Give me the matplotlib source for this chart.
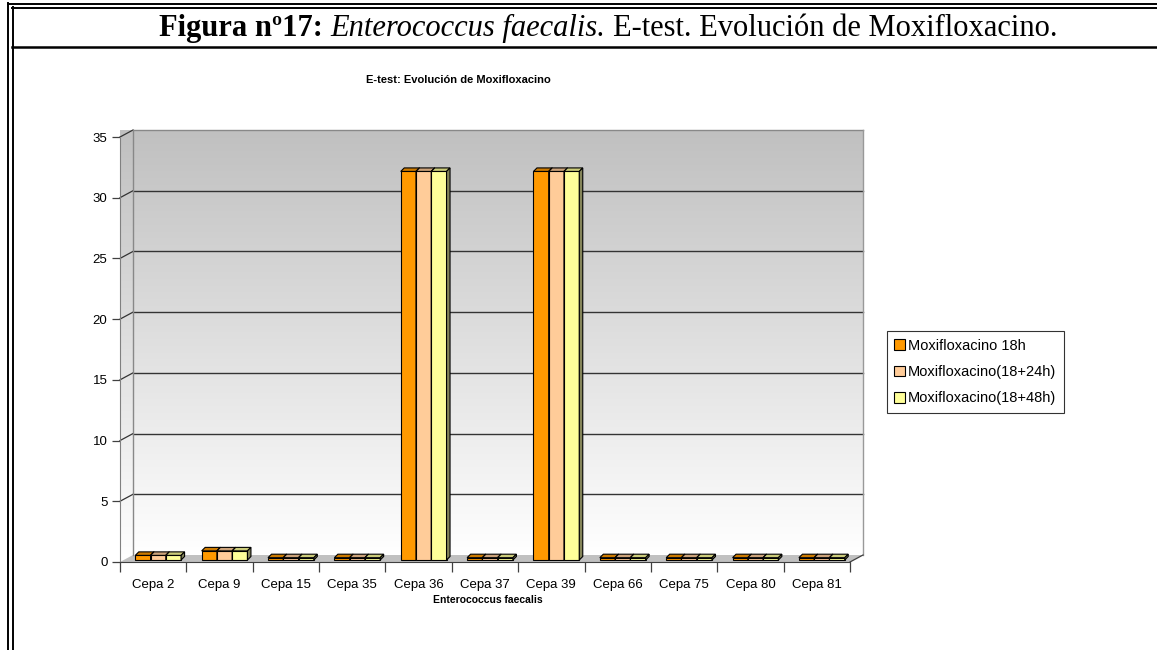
import matplotlib
matplotlib.use("Agg")
import matplotlib.pyplot as plt
import numpy as np
from matplotlib.patches import Polygon
from matplotlib.lines import Line2D
from matplotlib.colors import LinearSegmentedColormap

# values (E-test, mg/L)
cepas = ["Cepa 2", "Cepa 9", "Cepa 15", "Cepa 35", "Cepa 36", "Cepa 37",
         "Cepa 39", "Cepa 66", "Cepa 75", "Cepa 80", "Cepa 81"]
moxi_18h = [0.38, 0.75, 0.19, 0.19, 32, 0.19, 32, 0.19, 0.19, 0.19, 0.19]
moxi_24h = [0.38, 0.75, 0.19, 0.19, 32, 0.19, 32, 0.19, 0.19, 0.19, 0.19]
moxi_48h = [0.38, 0.75, 0.19, 0.19, 32, 0.19, 32, 0.19, 0.19, 0.19, 0.19]
series_names = ["Moxifloxacino 18h", "Moxifloxacino(18+24h)", "Moxifloxacino(18+48h)"]
yticks = [0, 5, 10, 15, 20, 25, 30, 35]

front_cols = ["#FF9900", "#FFCC99", "#FFFF99"]
top_cols = ["#CC7A00", "#CCA37A", "#CCCC7A"]
side_cols = ["#995C00", "#997A5C", "#85855A"]

W_PX, H_PX = 1157, 650
fig = plt.figure(figsize=(W_PX / 100, H_PX / 100), dpi=100)
fig.patch.set_facecolor("white")


def fx(x):
    return x / W_PX


def fy(y):
    return 1 - y / H_PX


ax_l, ax_r, ax_t, ax_b = 120, 850, 137, 562
ax = fig.add_axes([fx(ax_l), fy(ax_b), fx(ax_r) - fx(ax_l), fy(ax_t) - fy(ax_b)])
n = len(cepas)
xmin, xmax, ymax = -0.5, n - 0.5, 35
# data units per pixel
sx = (xmax - xmin) / (ax_r - ax_l)
sy = ymax / (ax_b - ax_t)
DX, DY = 13 * sx, 7 * sy      # depth of the floor / walls
FX, FY = 5 * sx, 2 * sy       # bar front plane
BX, BY = 3.5 * sx, 3.5 * sy   # bar depth

ax.patch.set_visible(False)

# walls with gradient
wall_cmap = LinearSegmentedColormap.from_list("wall", ["#ffffff", "#c0c0c0"])
grad = np.linspace(0, 1, 256).reshape(-1, 1)
ax.imshow(grad, extent=(xmin + DX, xmax + DX, DY, ymax + DY), origin="lower",
          cmap=wall_cmap, aspect="auto", zorder=0, clip_on=False)
left_wall = Polygon([(xmin, 0), (xmin + DX, DY), (xmin + DX, ymax + DY), (xmin, ymax)],
                    closed=True, transform=ax.transData, fc="none", ec="none")
im2 = ax.imshow(grad, extent=(xmin, xmin + DX, 0, ymax + DY), origin="lower",
                cmap=wall_cmap, aspect="auto", zorder=0, clip_on=False)
im2.set_clip_path(left_wall)

# floor
ax.add_patch(Polygon([(xmin, 0), (xmax, 0), (xmax + DX, DY), (xmin + DX, DY)],
                     closed=True, fc="#c0c0c0", ec="none", zorder=1, clip_on=False))
ax.plot([xmax, xmax + DX], [0, DY], color="#404040", lw=0.9, zorder=1.6, clip_on=False)

# gridlines on back wall and side wall
for y in yticks[1:]:
    c = "#888888" if y == ymax else "#333333"
    ax.plot([xmin + DX, xmax + DX], [y + DY, y + DY], color=c, lw=1.0, zorder=1.5, clip_on=False)
    ax.plot([xmin, xmin + DX], [y, y + DY], color="#333333", lw=0.9, zorder=1.5, clip_on=False)
ax.plot([xmin + DX, xmin + DX], [DY, ymax + DY], color="#888888", lw=1.0, zorder=1.5, clip_on=False)
ax.plot([xmax + DX, xmax + DX], [DY, ymax + DY], color="#999999", lw=1.0, zorder=1.5, clip_on=False)

# bars
w = 0.23
x = np.arange(n)
for j, vals in enumerate([moxi_18h, moxi_24h, moxi_48h]):
    z = 3 + j
    cx = x + (j - 1) * w + FX
    ax.bar(cx, vals, width=w, bottom=FY, color=front_cols[j], edgecolor="black",
           linewidth=0.8, zorder=z, label=series_names[j], clip_on=False)
    for c, v in zip(cx, vals):
        x0, x1 = c - w / 2, c + w / 2
        top = [(x0, v + FY), (x1, v + FY), (x1 + BX, v + FY + BY), (x0 + BX, v + FY + BY)]
        side = [(x1, FY), (x1 + BX, FY + BY), (x1 + BX, v + FY + BY), (x1, v + FY)]
        ax.add_patch(Polygon(top, closed=True, fc=top_cols[j], ec="black", lw=0.8,
                             zorder=z, clip_on=False))
        ax.add_patch(Polygon(side, closed=True, fc=side_cols[j], ec="black", lw=0.8,
                             zorder=z, clip_on=False))

ax.set_xlim(xmin, xmax)
ax.set_ylim(0, ymax)

for s in ["top", "right"]:
    ax.spines[s].set_visible(False)
ax.spines["left"].set_color("#808080")
ax.spines["bottom"].set_color("#404040")
ax.spines["left"].set_zorder(2)
ax.spines["bottom"].set_zorder(2)

ax.set_xticks(np.arange(xmin, xmax + 0.01, 1))
ax.set_xticklabels([])
ax.set_xticks(x, minor=True)
ax.set_xticklabels(cepas, minor=True, family="Liberation Sans", fontsize=9.5)
ax.tick_params(axis="x", which="major", length=7, color="#404040", width=0.9)
ax.tick_params(axis="x", which="minor", length=0, pad=12)
ax.set_yticks(yticks)
ax.set_yticklabels([str(t) for t in yticks], family="Liberation Sans", fontsize=9.5)
ax.tick_params(axis="y", length=6, pad=3, color="#404040", width=0.9)

leg = ax.legend(loc="center left", bbox_to_anchor=(fx(887), fy(372)),
                bbox_transform=fig.transFigure, frameon=True, fancybox=False,
                edgecolor="black", prop={"family": "Liberation Sans", "size": 10.5},
                handlelength=0.75, handleheight=0.75, handletextpad=0.2,
                labelspacing=0.85, borderpad=0.5, borderaxespad=0)
leg.get_frame().set_linewidth(0.8)

fig.text(fx(458), fy(80), "E-test: Evolución de Moxifloxacino", ha="center", va="center",
         family="Liberation Sans", weight="bold", fontsize=8)
fig.text(fx(488), fy(600), "Enterococcus faecalis", ha="center", va="center",
         family="Liberation Sans", weight="bold", fontsize=7.5)

# figure caption with mixed styles
S = 22
parts = [("Figura nº17:", "bold", "normal"),
         ("Enterococcus faecalis.", "normal", "italic"),
         ("E-test. Evolución de Moxifloxacino.", "normal", "normal")]
texts = [fig.text(0, fy(36), p, family="Liberation Serif", weight=wt, style=st,
                  fontsize=S, va="baseline", ha="left") for p, wt, st in parts]
fig.canvas.draw()
r = fig.canvas.get_renderer()
gap = 0.25 * S * 100 / 72
widths = [t.get_window_extent(r).width for t in texts]
total = sum(widths) + gap * (len(widths) - 1)
xpos = 608 - total / 2
for t, wd in zip(texts, widths):
    t.set_x(fx(xpos))
    xpos += wd + gap

# frame lines of the document
def hline(y, x0, x1, lw):
    fig.add_artist(Line2D([fx(x0), fx(x1)], [fy(y), fy(y)], color="black", lw=lw,
                          transform=fig.transFigure))


def vline(x, y0, y1, lw):
    fig.add_artist(Line2D([fx(x), fx(x)], [fy(y0), fy(y1)], color="black", lw=lw,
                          transform=fig.transFigure))


hline(4, 7.5, W_PX, 1.4)
hline(7.5, 11.5, W_PX, 1.4)
vline(8.3, 3.3, H_PX, 1.4)
vline(12.5, 7, H_PX, 1.4)
hline(47, 11.5, W_PX, 1.8)

fig.savefig("out.png", dpi=100)
